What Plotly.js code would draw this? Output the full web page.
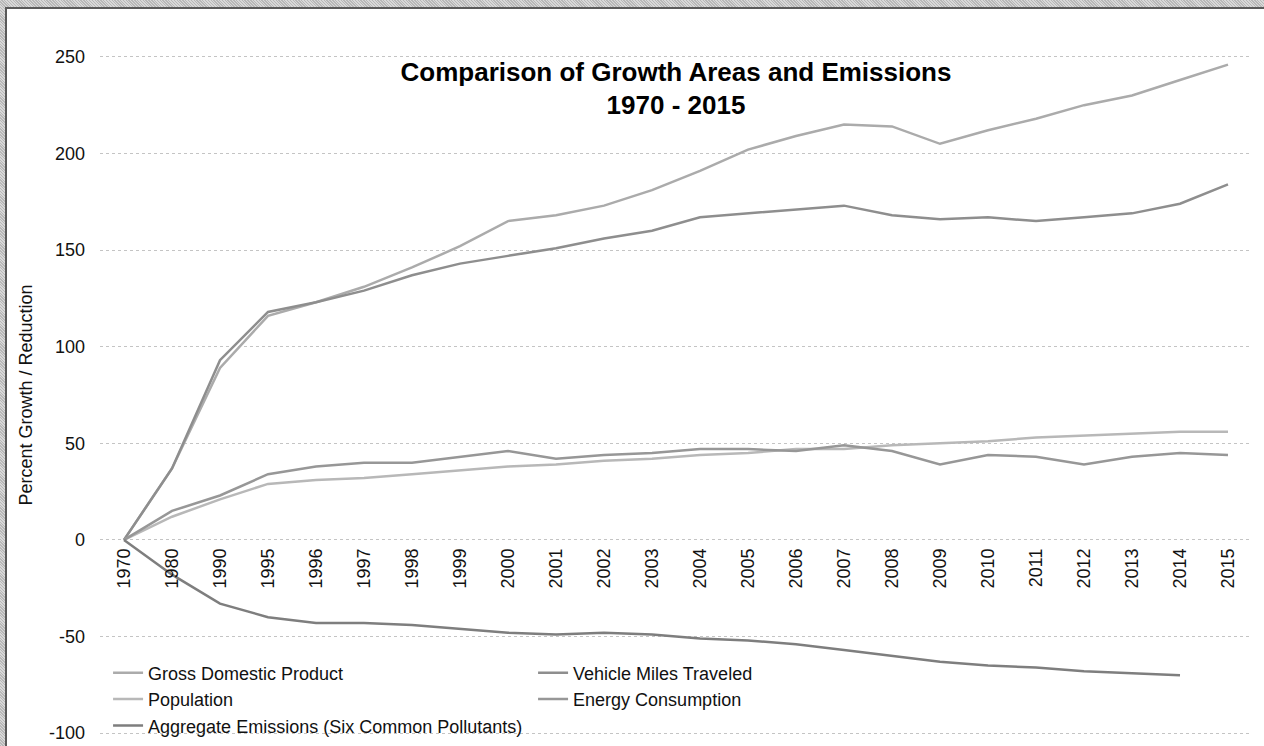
<!DOCTYPE html>
<html>
<head>
<meta charset="utf-8">
<script src="https://cdn.plot.ly/plotly-3.0.1.min.js"></script>
<style>
  html, body { margin: 0; padding: 0; }
  body { width: 1264px; height: 746px; overflow: hidden; position: relative;
         background: repeating-linear-gradient(45deg, #b8b8b8 0 1px, #d8d8d8 1px 2px); }
  #frame { position: absolute; left: 5px; top: 7px; right: 0; bottom: 0;
           background: #ffffff; border-top: 2px solid #5a5a5a; border-left: 2px solid #5a5a5a; }
  #chart { position: absolute; left: 0; top: 0; width: 1264px; height: 746px; }
</style>
</head>
<body>
<div id="frame"></div>
<div id="chart"></div>
<script>
const years = ['1970','1980','1990','1995','1996','1997','1998','1999','2000','2001','2002','2003',
               '2004','2005','2006','2007','2008','2009','2010','2011','2012','2013','2014','2015'];

const gdp        = [0, 37, 89, 116, 123, 131, 141, 152, 165, 168, 173, 181, 191, 202, 209, 215, 214, 205, 212, 218, 225, 230, 238, 246];
const vmt        = [0, 37, 93, 118, 123, 129, 137, 143, 147, 151, 156, 160, 167, 169, 171, 173, 168, 166, 167, 165, 167, 169, 174, 184];
const population = [0, 12, 21, 29, 31, 32, 34, 36, 38, 39, 41, 42, 44, 45, 47, 47, 49, 50, 51, 53, 54, 55, 56, 56];
const energy     = [0, 15, 23, 34, 38, 40, 40, 43, 46, 42, 44, 45, 47, 47, 46, 49, 46, 39, 44, 43, 39, 43, 45, 44];
const emissions  = [0, -18, -33, -40, -43, -43, -44, -46, -48, -49, -48, -49, -51, -52, -54, -57, -60, -63, -65, -66, -68, -69, -70, null];

const seriesNames = ['Gross Domestic Product', 'Vehicle Miles Traveled', 'Population',
                     'Energy Consumption', 'Aggregate Emissions (Six Common Pollutants)'];
const seriesData = [gdp, vmt, population, energy, emissions];
const seriesColors = ['#ababab', '#8e8e8e', '#b8b8b8', '#979797', '#7e7e7e'];

const yTicks = [-100, -50, 0, 50, 100, 150, 200, 250];
const yRange = [-102, 252];

const FONT = 'Arial, "Liberation Sans", Helvetica, sans-serif';

const traces = seriesData.map((d, i) => ({
  type: 'scatter',
  mode: 'lines',
  x: years,
  y: d,
  name: seriesNames[i],
  line: { color: seriesColors[i], width: 2.5 },
  connectgaps: false,
  hoverinfo: 'x+y+name'
}));

const layout = {
  width: 1264,
  height: 746,
  paper_bgcolor: 'rgba(0,0,0,0)',
  plot_bgcolor: 'rgba(0,0,0,0)',
  margin: { l: 100, r: 12, t: 53, b: 9, autoexpand: false },
  font: { family: FONT, size: 18, color: '#111' },
  title: {
    text: '<b>Comparison of Growth Areas and Emissions<br>1970 - 2015</b>',
    font: { family: FONT, size: 26, color: '#000' },
    x: 0.5, xanchor: 'center',
    y: 0.892, yanchor: 'middle',
    xref: 'paper', yref: 'container'
  },
  xaxis: {
    type: 'category',
    range: [-0.5, 23.5],
    anchor: 'free',
    position: (0 - yRange[0]) / (yRange[1] - yRange[0]),
    automargin: false,
    showgrid: false,
    zeroline: false,
    showline: false,
    ticks: '',
    tickangle: -90,
    ticklabelstandoff: 4,
    tickfont: { family: FONT, size: 18, color: '#111' },
    fixedrange: true
  },
  yaxis: {
    range: yRange,
    automargin: false,
    tickvals: yTicks,
    ticktext: yTicks.map(String),
    showgrid: true,
    gridcolor: '#c4c4c4',
    gridwidth: 1,
    griddash: 'dot',
    zeroline: false,
    showline: false,
    ticks: '',
    ticklabelstandoff: 14,
    tickfont: { family: FONT, size: 18, color: '#111' },
    title: { text: 'Percent Growth / Reduction', font: { family: FONT, size: 18, color: '#111' }, standoff: 11 },
    fixedrange: true
  },
  legend: {
    orientation: 'h',
    x: 0.007, xanchor: 'left',
    y: 0.1206, yanchor: 'top',
    bgcolor: 'rgba(0,0,0,0)',
    font: { family: FONT, size: 18, color: '#111' },
    entrywidth: 380,
    entrywidthmode: 'pixels',
    itemwidth: 30,
    traceorder: 'normal'
  },
  showlegend: true
};

Plotly.newPlot('chart', traces, layout, { displayModeBar: false, staticPlot: true });
</script>
</body>
</html>
